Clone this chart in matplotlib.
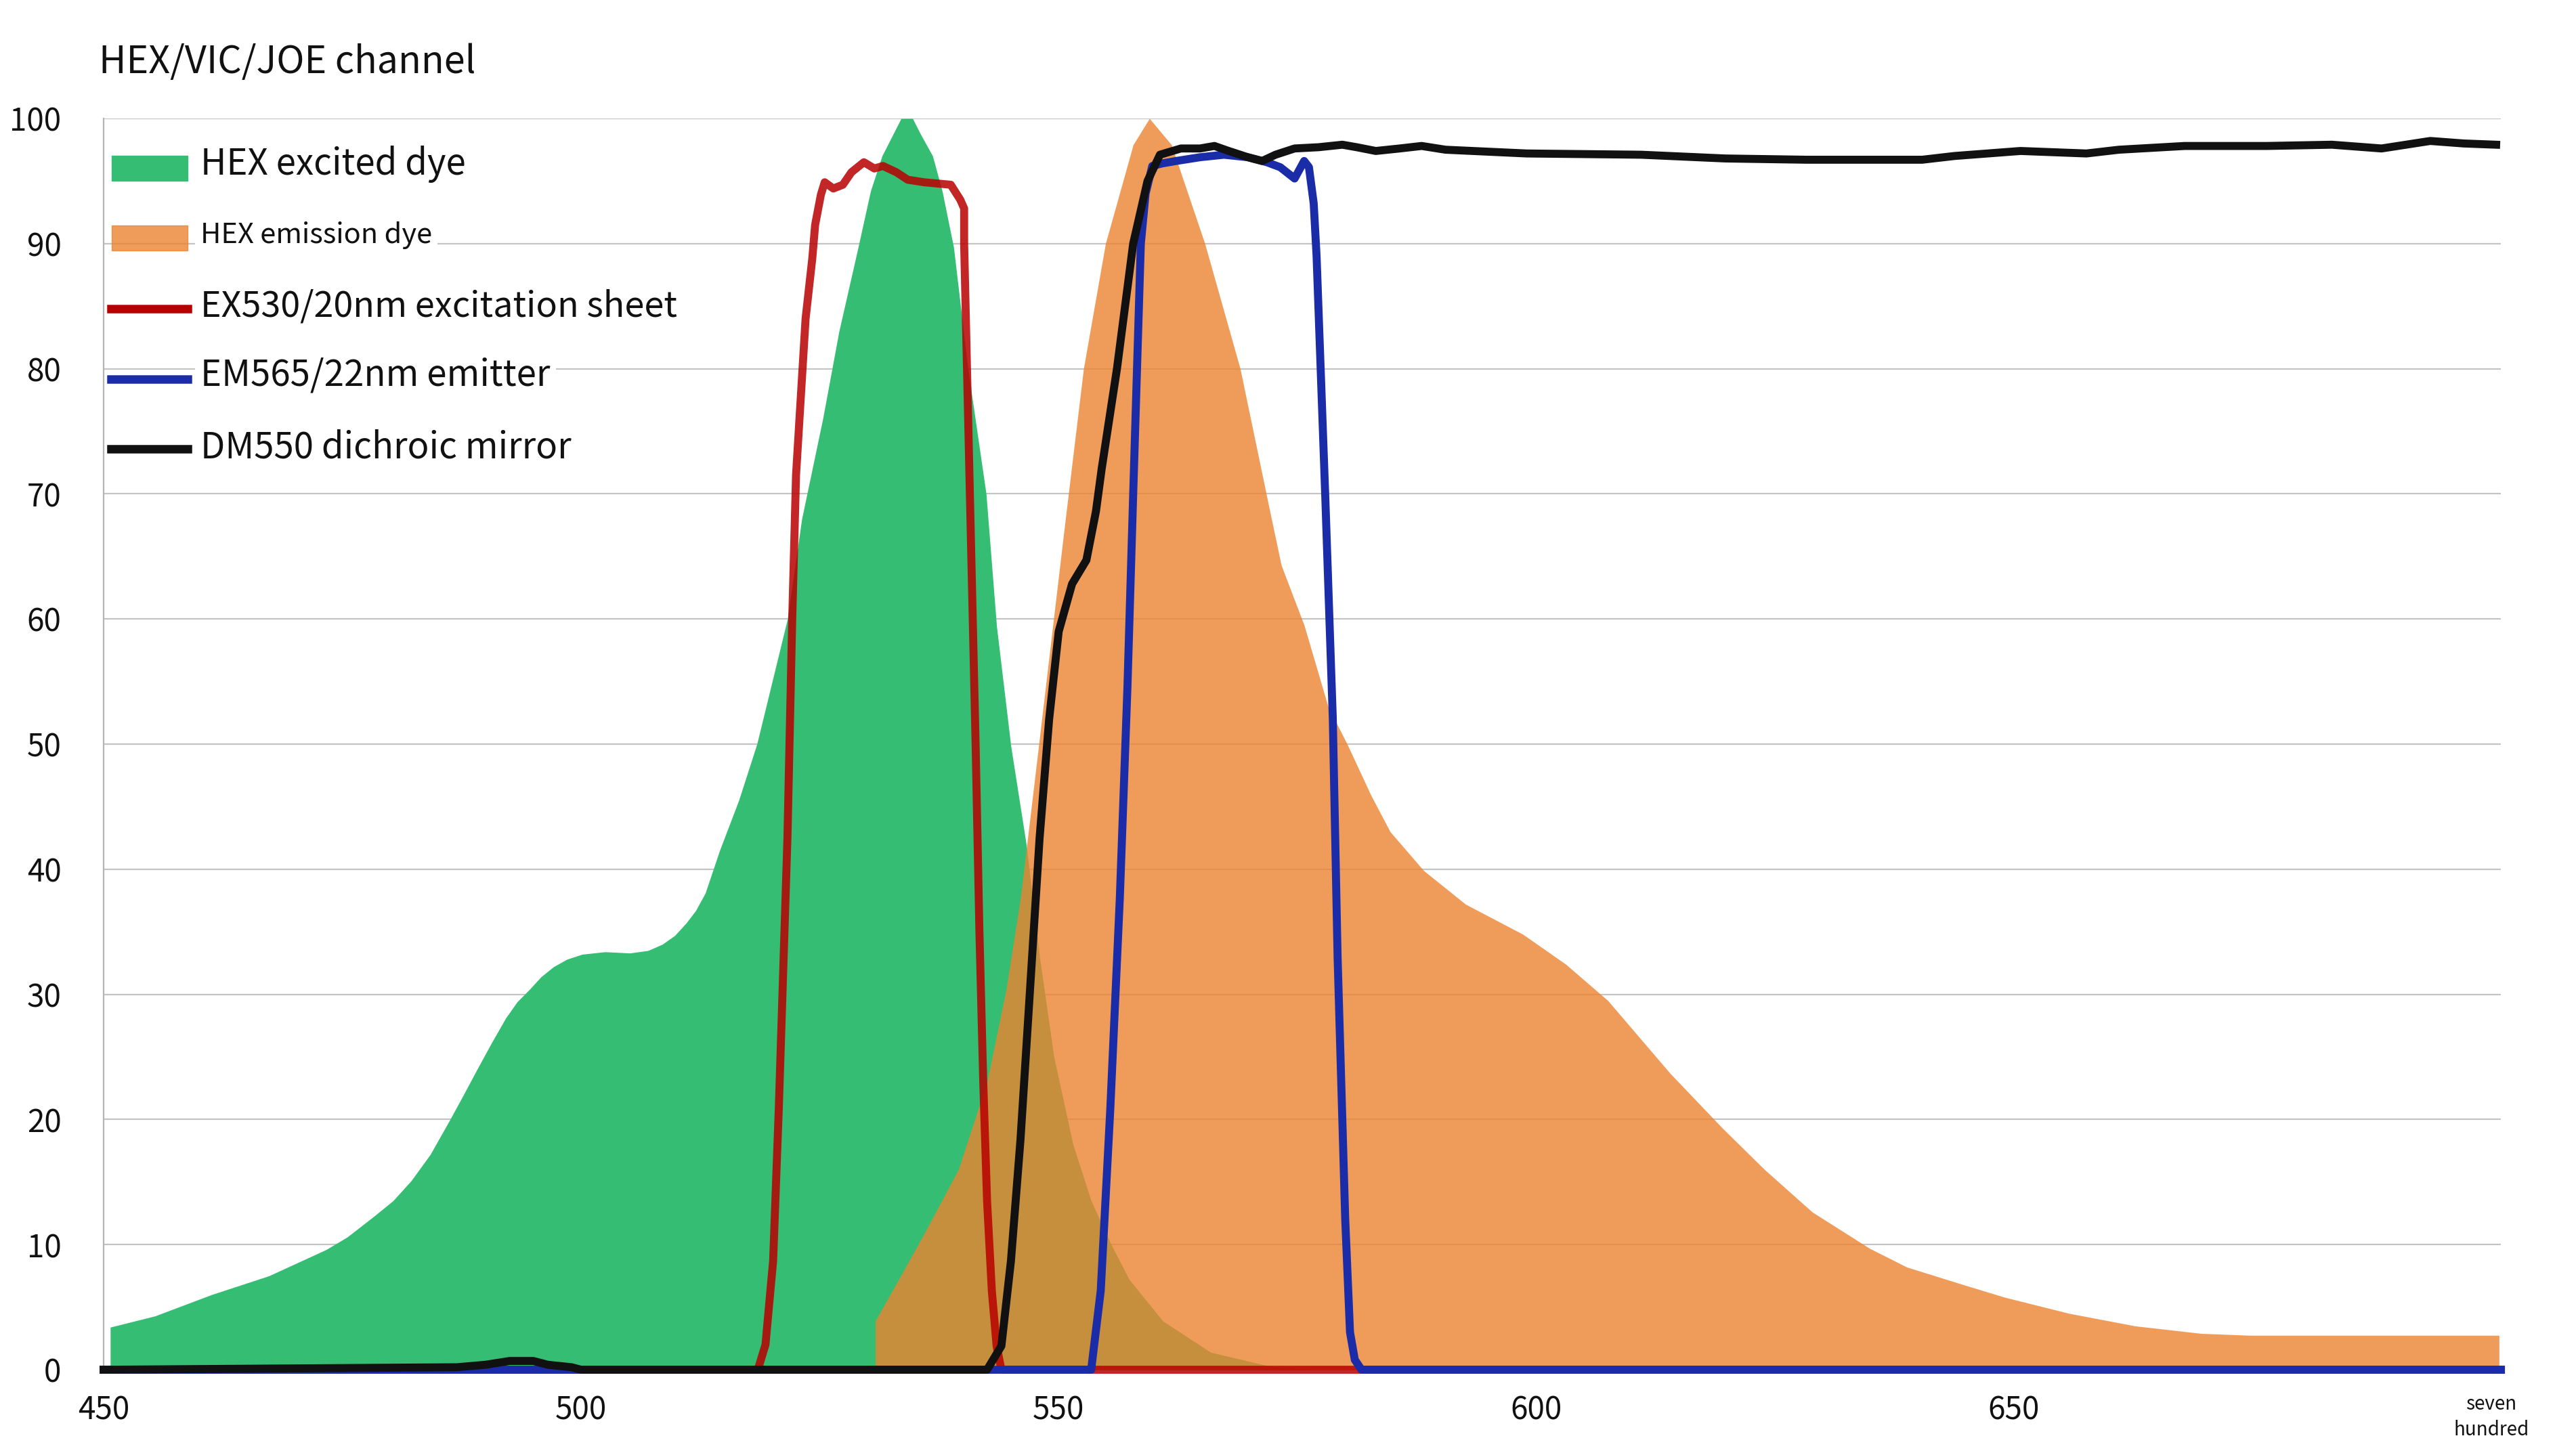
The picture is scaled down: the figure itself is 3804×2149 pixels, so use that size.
import matplotlib
matplotlib.use('Agg')
import matplotlib.pyplot as plt
from matplotlib.patches import Rectangle
from matplotlib.lines import Line2D

plt.rcParams['font.family'] = ['Noto Sans CJK SC', 'DejaVu Sans']

# HEX excited dye (green area)
green_x = [450.7, 455.4, 461.3, 467.3, 473.3, 475.5, 478.2, 480.3, 482.2, 484.2, 486.2, 487.7,
           489.1, 490.6, 492.1, 493.3, 494.6, 495.8, 497.1, 498.5, 500.1, 502.5, 505.1, 507.0,
           508.5, 509.8, 511.0, 512.0, 513.0, 514.5, 516.5, 518.4, 520.0, 521.6, 523.1, 525.3,
           527.0, 529.0, 530.3, 531.5, 532.7, 533.5, 534.7, 535.5, 536.8, 537.8, 539.0, 540.5,
           542.4, 543.5, 545.0, 546.6, 548.0, 549.5, 551.5, 553.4, 555.5, 557.4, 560.9, 565.9,
           572.0, 576.0]
green_y = [3.4, 4.3, 6.0, 7.5, 9.6, 10.6, 12.2, 13.5, 15.1, 17.2, 19.9, 22.0,
           24.0, 26.1, 28.1, 29.4, 30.4, 31.4, 32.2, 32.8, 33.2, 33.4, 33.3, 33.5,
           34.0, 34.7, 35.7, 36.7, 38.1, 41.5, 45.5, 50.0, 55.0, 60.0, 68.0, 76.0,
           83.0, 89.7, 94.2, 97.0, 98.8, 100.0, 100.0, 98.8, 97.0, 94.2, 89.7, 80.0,
           70.0, 59.4, 49.8, 42.0, 33.0, 25.0, 18.0, 13.5, 10.0, 7.2, 3.9, 1.4,
           0.3, 0.0]

# HEX emission dye (orange area)
orange_x = [530.8, 530.8, 533.6, 536.0, 539.5, 542.5, 544.5, 546.0, 547.5, 549.0, 550.5, 552.6,
            554.9, 557.8, 559.5, 561.8, 565.3, 569.0, 572.0, 573.3, 575.7, 578.2, 580.2, 582.7,
            584.7, 588.2, 592.6, 598.6, 603.1, 607.5, 614.0, 619.5, 623.9, 628.9, 634.9, 638.8,
            644.7, 649.0, 655.8, 662.7, 669.6, 674.7, 700.8]
orange_y = [0.0, 3.9, 7.7, 11.0, 16.0, 23.0, 30.4, 37.7, 47.3, 57.0, 66.7, 80.0,
            90.0, 97.9, 100.0, 97.9, 90.0, 80.0, 69.0, 64.3, 59.5, 53.0, 50.0, 45.9,
            43.0, 39.9, 37.2, 34.8, 32.4, 29.5, 23.7, 19.3, 16.0, 12.6, 9.7, 8.2,
            6.8, 5.8, 4.5, 3.5, 2.9, 2.75, 2.75]

# EX530/20nm excitation sheet
red_x = [450.0, 518.5, 519.3, 520.1, 520.7, 521.6, 522.1, 522.5, 523.5, 524.2, 524.5, 525.1,
         525.5, 526.4, 527.4, 528.3, 529.6, 530.7, 531.6, 533.0, 534.2, 535.9, 537.3, 538.7,
         539.7, 540.1, 540.1, 540.7, 541.3, 541.7, 542.1, 542.5, 543.0, 543.5, 544.0, 701.0]
red_y = [0.0, 0.0, 2.0, 8.7, 21.0, 42.5, 60.0, 71.5, 84.0, 88.8, 91.5, 93.9,
         94.9, 94.4, 94.7, 95.7, 96.5, 96.0, 96.2, 95.7, 95.1, 94.9, 94.8, 94.7,
         93.5, 92.8, 90.0, 70.0, 50.0, 35.0, 23.0, 13.5, 6.3, 1.9, 0.0, 0.0]

# EM565/22nm emitter
blue_x = [450.0, 553.4, 554.4, 555.4, 556.4, 557.2, 557.8, 558.6, 559.1, 559.8, 560.8, 562.3,
          564.8, 567.3, 569.8, 571.8, 573.2, 574.7, 575.7, 576.2, 576.7, 577.0, 577.9, 578.7,
          579.2, 580.0, 580.5, 581.0, 581.7, 701.0]
blue_y = [0.0, 0.0, 6.3, 20.8, 37.7, 54.6, 70.0, 90.0, 94.0, 96.2, 96.4, 96.6,
          96.9, 97.1, 96.9, 96.5, 96.1, 95.2, 96.6, 96.1, 93.2, 89.0, 70.0, 52.0,
          33.0, 12.0, 3.0, 0.8, 0.0, 0.0]

# DM550 dichroic mirror
black_x = [450.0, 487.0, 490.0, 492.5, 495.0, 496.5, 499.0, 500.0, 542.5, 544.0, 545.0, 546.0,
           547.0, 548.0, 549.0, 550.0, 551.4, 552.9, 553.9, 554.5, 556.1, 557.8, 559.3, 560.6,
           562.8, 564.8, 566.3, 567.8, 569.8, 571.3, 572.7, 574.7, 577.2, 579.7, 581.2, 583.2,
           585.7, 588.0, 590.5, 599.0, 611.0, 619.8, 628.3, 640.4, 643.8, 650.7, 657.6, 661.0,
           667.9, 676.5, 683.3, 688.5, 693.6, 697.1, 700.5]
black_y = [0.0, 0.2, 0.4, 0.7, 0.7, 0.4, 0.2, 0.0, 0.0, 1.9, 8.7, 18.4,
           30.4, 42.5, 52.0, 59.0, 62.8, 64.7, 68.6, 72.0, 80.0, 90.0, 95.0, 97.1,
           97.6, 97.6, 97.8, 97.4, 96.9, 96.6, 97.1, 97.6, 97.7, 97.9, 97.7, 97.4,
           97.6, 97.8, 97.5, 97.2, 97.1, 96.8, 96.7, 96.7, 97.0, 97.4, 97.2, 97.5,
           97.8, 97.8, 97.9, 97.6, 98.2, 98.0, 97.9]

y_ticks = [0, 10, 20, 30, 40, 50, 60, 70, 80, 90, 100]
x_ticks = [450, 500, 550, 600, 650, 700]
x_labels = ['450', '500', '550', '600', '650', 'seven\nhundred']

legend_labels = ['HEX excited dye', 'HEX emission dye', 'EX530/20nm excitation sheet',
                 'EM565/22nm emitter', 'DM550 dichroic mirror']

c_green = '#35be73'
c_orange = '#ec8431'
c_red = '#b80000'
c_blue = '#1b2ca8'
c_black = '#111111'

fig = plt.figure(figsize=(38.05, 21.49), dpi=100)
ax = fig.add_axes([0.0402, 0.0586, 0.9304, 0.86])

ax.fill_between(green_x, green_y, color=c_green, lw=0, zorder=2)
ax.fill_between(orange_x, orange_y, color=c_orange, alpha=0.8, lw=0, zorder=3)
ax.plot(red_x, red_y, color=c_red, alpha=0.85, lw=8.5, zorder=4, clip_on=False)
ax.plot(blue_x, blue_y, color=c_blue, lw=8.5, zorder=5, clip_on=False)
ax.plot(black_x, black_y, color=c_black, lw=8.5, zorder=6, clip_on=False)

ax.set_xlim(450, 701)
ax.set_ylim(0, 100)
ax.set_yticks(y_ticks)
ax.set_yticklabels([str(v) for v in y_ticks])
ax.set_xticks(x_ticks)
ax.set_xticklabels(x_labels)
ax.tick_params(axis='both', length=0, labelsize=33, colors='#111111')
ax.tick_params(axis='y', pad=45)
ax.tick_params(axis='x', pad=26)
ax.get_xticklabels()[-1].set_fontsize(20)
ax.get_xticklabels()[-1].set_linespacing(1.35)

ax.set_axisbelow(True)
ax.grid(axis='y', color='#c4c4c4', lw=1.6)
for s in ['top', 'right', 'bottom']:
    ax.spines[s].set_visible(False)
ax.spines['left'].set_color('#b5b5b5')
ax.spines['left'].set_linewidth(1.6)

# legend drawn by hand to keep the uneven text sizes
text_y = [0.9633, 0.9066, 0.8497, 0.7947, 0.737]
key_y = [0.960, 0.9043, 0.848, 0.7918, 0.7357]
leg_size = [38, 30, 37.5, 38, 38]
tr = ax.transAxes
ax.add_patch(Rectangle((0.0034, key_y[0] - 0.01), 0.0316, 0.02, transform=tr,
                       color=c_green, zorder=8, clip_on=False))
ax.add_patch(Rectangle((0.0034, key_y[1] - 0.01), 0.0316, 0.02, transform=tr,
                       color=c_orange, alpha=0.8, zorder=8, clip_on=False))
for yy, col in zip(key_y[2:], [c_red, c_blue, c_black]):
    ax.add_line(Line2D([0.003, 0.035], [yy, yy], transform=tr,
                       color=col, lw=9, zorder=8))
for yy, lab, fs in zip(text_y, legend_labels, leg_size):
    ax.text(0.0404, yy, lab, transform=tr, fontsize=fs, va='center', ha='left',
            color='#111111', zorder=9,
            bbox=dict(facecolor='white', edgecolor='none', pad=6))

fig.text(146 / 3805, 1 - 92 / 2149, 'HEX/VIC/JOE channel', fontsize=40,
         va='center', ha='left', color='#111111')

fig.savefig('out.png', dpi=100, facecolor='white')
